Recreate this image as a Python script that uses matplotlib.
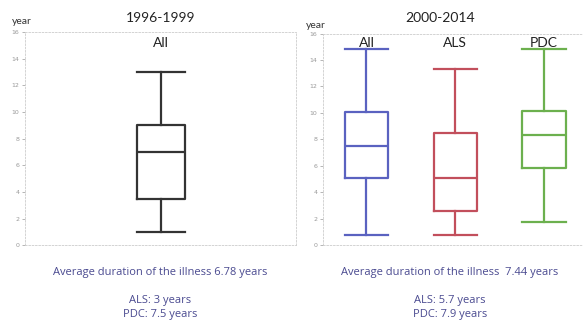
import matplotlib
matplotlib.use("Agg")
import matplotlib.pyplot as plt

# 1996-1999 panel
left_groups = ["All"]
left_whislo = [1.0]
left_q1 = [3.5]
left_med = [7.0]
left_q3 = [9.0]
left_whishi = [13.0]

# 2000-2014 panel
right_groups = ["All", "ALS", "PDC"]
right_whislo = [0.8, 0.8, 1.75]
right_q1 = [5.05, 2.6, 5.8]
right_med = [7.5, 5.1, 8.35]
right_q3 = [10.1, 8.45, 10.15]
right_whishi = [14.8, 13.3, 14.8]
right_colors = ["#5a62c0", "#c24f5c", "#6cb04e"]

yticks = [0, 2, 4, 6, 8, 10, 12, 14, 16]
text_color = "#4a4a90"


def make_stats(groups, lo, q1, med, q3, hi):
    stats = []
    for g, a, b, c, d, e in zip(groups, lo, q1, med, q3, hi):
        stats.append(dict(label=g, whislo=a, q1=b, med=c, q3=d, whishi=e, fliers=[]))
    return stats


def style_axes(ax):
    ax.set_ylim(0, 16)
    ax.set_yticks(yticks)
    ax.tick_params(axis="y", labelsize=4.5, length=2, width=0.5, colors="#999999", pad=2)
    ax.set_xticks([])
    for s in ax.spines.values():
        s.set_linestyle((0, (2, 2)))
        s.set_linewidth(0.6)
        s.set_color("#cccccc")


fig = plt.figure(figsize=(5.83, 3.23), dpi=100)
fig.patch.set_facecolor("white")

ax1 = fig.add_axes([0.043, 0.241, 0.465, 0.66])
ax2 = fig.add_axes([0.554, 0.241, 0.46, 0.655])

lw = 1.6

# left panel
st = make_stats(left_groups, left_whislo, left_q1, left_med, left_q3, left_whishi)
lc = "#333333"
ax1.bxp(st, positions=[1], widths=0.354, showfliers=False,
        boxprops=dict(color=lc, linewidth=lw),
        medianprops=dict(color=lc, linewidth=lw),
        whiskerprops=dict(color=lc, linewidth=lw),
        capprops=dict(color=lc, linewidth=lw),
        capwidths=0.354)
ax1.set_xlim(0, 2)
style_axes(ax1)
ax1.text(1, 15.2, left_groups[0], ha="center", va="center", fontsize=10,
         family="Lato", color="#222222")

# right panel
st = make_stats(right_groups, right_whislo, right_q1, right_med, right_q3, right_whishi)
for i, s in enumerate(st):
    c = right_colors[i]
    ax2.bxp([s], positions=[i + 1], widths=0.49, showfliers=False,
            boxprops=dict(color=c, linewidth=lw),
            medianprops=dict(color=c, linewidth=lw),
            whiskerprops=dict(color=c, linewidth=lw),
            capprops=dict(color=c, linewidth=lw),
            capwidths=0.49)
    ax2.text(i + 1, 15.3, right_groups[i], ha="center", va="center", fontsize=10,
             family="Lato", color="#222222")
ax2.set_xlim(0.51, 3.53)
style_axes(ax2)

# titles and axis words
fig.text(0.275, 0.945, "1996-1999", ha="center", va="center", fontsize=10,
         family="Lato", color="#222222")
fig.text(0.755, 0.945, "2000-2014", ha="center", va="center", fontsize=10,
         family="Lato", color="#222222")
fig.text(0.038, 0.932, "year", ha="center", va="center", fontsize=7.5,
         family="Lato", color="#333333")
fig.text(0.542, 0.922, "year", ha="center", va="center", fontsize=7.5,
         family="Lato", color="#333333")

# summary notes
fig.text(0.275, 0.155, "Average duration of the illness 6.78 years", ha="center",
         va="center", fontsize=8, family="Open Sans", color=text_color)
fig.text(0.275, 0.07, "ALS: 3 years", ha="center", va="center", fontsize=8,
         family="Open Sans", color=text_color)
fig.text(0.275, 0.025, "PDC: 7.5 years", ha="center", va="center", fontsize=8,
         family="Open Sans", color=text_color)
fig.text(0.772, 0.155, "Average duration of the illness  7.44 years", ha="center",
         va="center", fontsize=8, family="Open Sans", color=text_color)
fig.text(0.772, 0.07, "ALS: 5.7 years", ha="center", va="center", fontsize=8,
         family="Open Sans", color=text_color)
fig.text(0.772, 0.025, "PDC: 7.9 years", ha="center", va="center", fontsize=8,
         family="Open Sans", color=text_color)

fig.savefig("out.png", dpi=100)
